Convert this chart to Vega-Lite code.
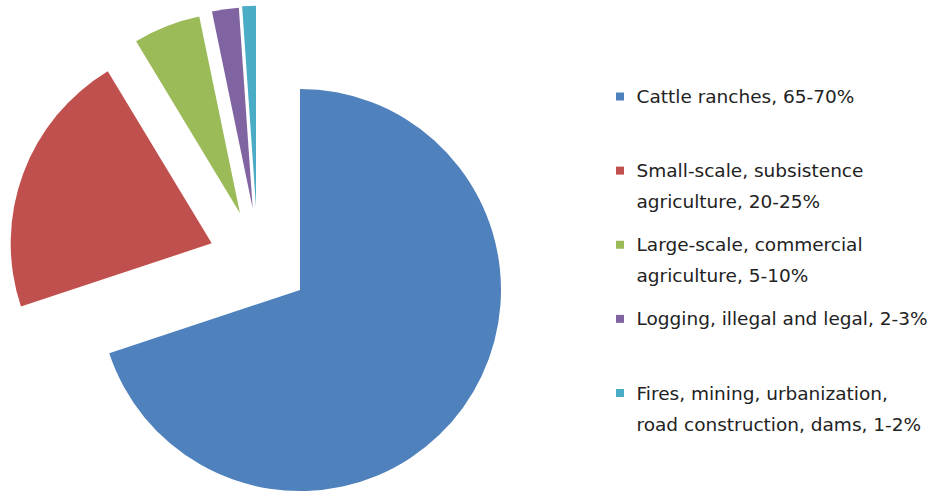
{
  "$schema": "https://vega.github.io/schema/vega-lite/v6.json",
  "padding": 0,
  "background": "white",
  "config": {"view": {"stroke": null}},
  "datasets": {
    "causes": [
      {"order": 1, "cat": "Cattle ranches", "label": "Cattle ranches, 65-70%", "value": 69.9},
      {"order": 2, "cat": "Small-scale", "label": "Small-scale, subsistence\nagriculture, 20-25%", "value": 21.45},
      {"order": 3, "cat": "Large-scale", "label": "Large-scale, commercial\nagriculture, 5-10%", "value": 5.4},
      {"order": 4, "cat": "Logging", "label": "Logging, illegal and legal, 2-3%", "value": 2.15},
      {"order": 5, "cat": "Fires", "label": "Fires, mining, urbanization,\nroad construction, dams, 1-2%", "value": 1.1}
    ]
  },
  "spacing": 0,
  "hconcat": [
    {
      "width": 600,
      "height": 492,
      "data": {"name": "causes"},
      "transform": [
        {"stack": "value", "groupby": [], "sort": [{"field": "order", "order": "ascending"}], "as": ["v0", "v1"]}
      ],
      "encoding": {
        "theta": {"field": "v0", "type": "quantitative", "scale": {"domain": [0, 100]}},
        "theta2": {"field": "v1"},
        "color": {
          "field": "cat", "type": "nominal", "legend": null,
          "scale": {
            "domain": ["Cattle ranches", "Small-scale", "Large-scale", "Logging", "Fires"],
            "range": ["#4F81BD", "#C0504D", "#9BBB59", "#8064A2", "#4BACC6"]
          }
        }
      },
      "layer": [
        {"transform": [{"filter": "datum.order == 1"}], "mark": {"type": "arc", "outerRadius": 201, "xOffset": 0, "yOffset": 44}},
        {"transform": [{"filter": "datum.order == 2"}], "mark": {"type": "arc", "outerRadius": 201, "xOffset": -88.3, "yOffset": -2.7}},
        {"transform": [{"filter": "datum.order == 3"}], "mark": {"type": "arc", "outerRadius": 201, "xOffset": -60, "yOffset": -32.7}},
        {"transform": [{"filter": "datum.order == 4"}], "mark": {"type": "arc", "outerRadius": 201, "xOffset": -47.3, "yOffset": -37.7}},
        {"transform": [{"filter": "datum.order == 5"}], "mark": {"type": "arc", "outerRadius": 201, "xOffset": -44, "yOffset": -39.3}}
      ]
    },
    {
      "width": 40,
      "height": 492,
      "data": {"name": "causes"},
      "encoding": {
        "y": {
          "field": "cat", "type": "nominal", "axis": null,
          "sort": {"field": "order", "order": "ascending"},
          "scale": {"type": "point", "padding": 0, "range": [96.5, 393]}
        }
      },
      "layer": [
        {
          "mark": {"type": "point", "shape": "square", "filled": true, "size": 64, "opacity": 1, "strokeWidth": 0},
          "encoding": {
            "color": {
              "field": "cat", "type": "nominal", "legend": null,
              "scale": {
                "domain": ["Cattle ranches", "Small-scale", "Large-scale", "Logging", "Fires"],
                "range": ["#4F81BD", "#C0504D", "#9BBB59", "#8064A2", "#4BACC6"]
              }
            }
          }
        },
        {
          "mark": {"type": "text", "align": "left", "baseline": "alphabetic", "dx": 16.5, "dy": 6.5, "font": "DejaVu Sans", "fontSize": 18.5, "lineHeight": 31, "lineBreak": "\n", "color": "#222222"},
          "encoding": {"text": {"field": "label"}}
        }
      ]
    }
  ]
}
